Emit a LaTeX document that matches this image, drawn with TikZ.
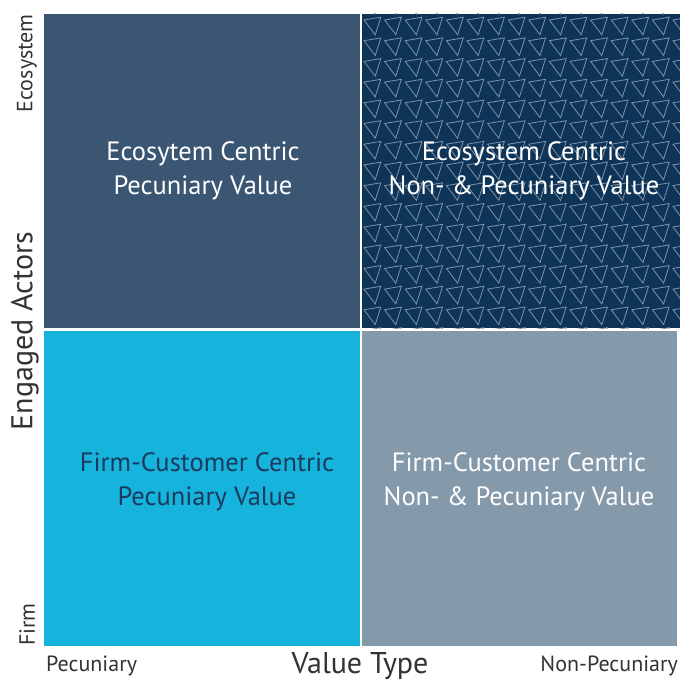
\documentclass[tikz,border=0pt]{standalone}
\usepackage{fontspec}
\setmainfont{PT Sans}
\definecolor{tlcol}{HTML}{3A5673}
\definecolor{trcol}{HTML}{0E3558}
\definecolor{blcol}{HTML}{16B4DD}
\definecolor{brcol}{HTML}{8499AA}
\definecolor{bltext}{HTML}{1A3A5E}
\definecolor{patcol}{HTML}{7F92A9}
\definecolor{axiscol}{HTML}{333333}
\begin{document}
\begin{tikzpicture}[x=1bp,y=-1bp,
  qtext/.style={align=center,font=\fontsize{26.5bp}{34bp}\selectfont},
  axbig/.style={text=axiscol,font=\fontsize{30bp}{34bp}\selectfont,inner sep=0},
  axsmall/.style={text=axiscol,font=\fontsize{22bp}{26bp}\selectfont,inner sep=0},
  tri/.style={draw=patcol,line width=0.8bp,line join=miter}]
\useasboundingbox (0,0) rectangle (680,683);
\fill[white] (0,0) rectangle (680,683);
% quadrants
\fill[tlcol] (44,14) rectangle (360,328);
\fill[trcol] (362,14) rectangle (680,328);
\fill[blcol] (44,331) rectangle (360,646);
\fill[brcol] (362,331) rectangle (677,646);
% pattern
\begin{scope}
\clip (362,14) rectangle (680,328);
\foreach \i in {-1,...,16}{
  \foreach \j in {-1,...,16}{
    \draw[tri] ({362+2+20.6*\i},{14+6+20.7*\j}) -- ++(16.8,-2.8) -- ++(-5.6,17.6) -- cycle;
  }
}
\end{scope}
% texts
\node[qtext,text=white] (tl) at (203,171) {Ecosytem Centric\\Pecuniary Value};
\node[qtext,text=white] (tr) at (524,171) {Ecosystem Centric\\Non- \& Pecuniary Value};
\node[qtext,text=bltext] (bl) at (207,482) {Firm-Customer Centric\\Pecuniary Value};
\node[qtext,text=white] (br) at (519,482) {Firm-Customer Centric\\Non- \& Pecuniary Value};
% axes labels
\node[axbig,rotate=90] (ya) at (25,331) {Engaged Actors};
\node[axsmall,rotate=90,anchor=east] (yhi) at (27,14) {Ecosystem};
\node[axsmall,rotate=90,anchor=west] (ylo) at (27,646) {Firm};
\node[axbig] (xa) at (360,666) {Value Type};
\node[axsmall,anchor=west] (xlo) at (46,666) {Pecuniary};
\node[axsmall,anchor=east] (xhi) at (678,666) {Non-Pecuniary};
\end{tikzpicture}
\end{document}
